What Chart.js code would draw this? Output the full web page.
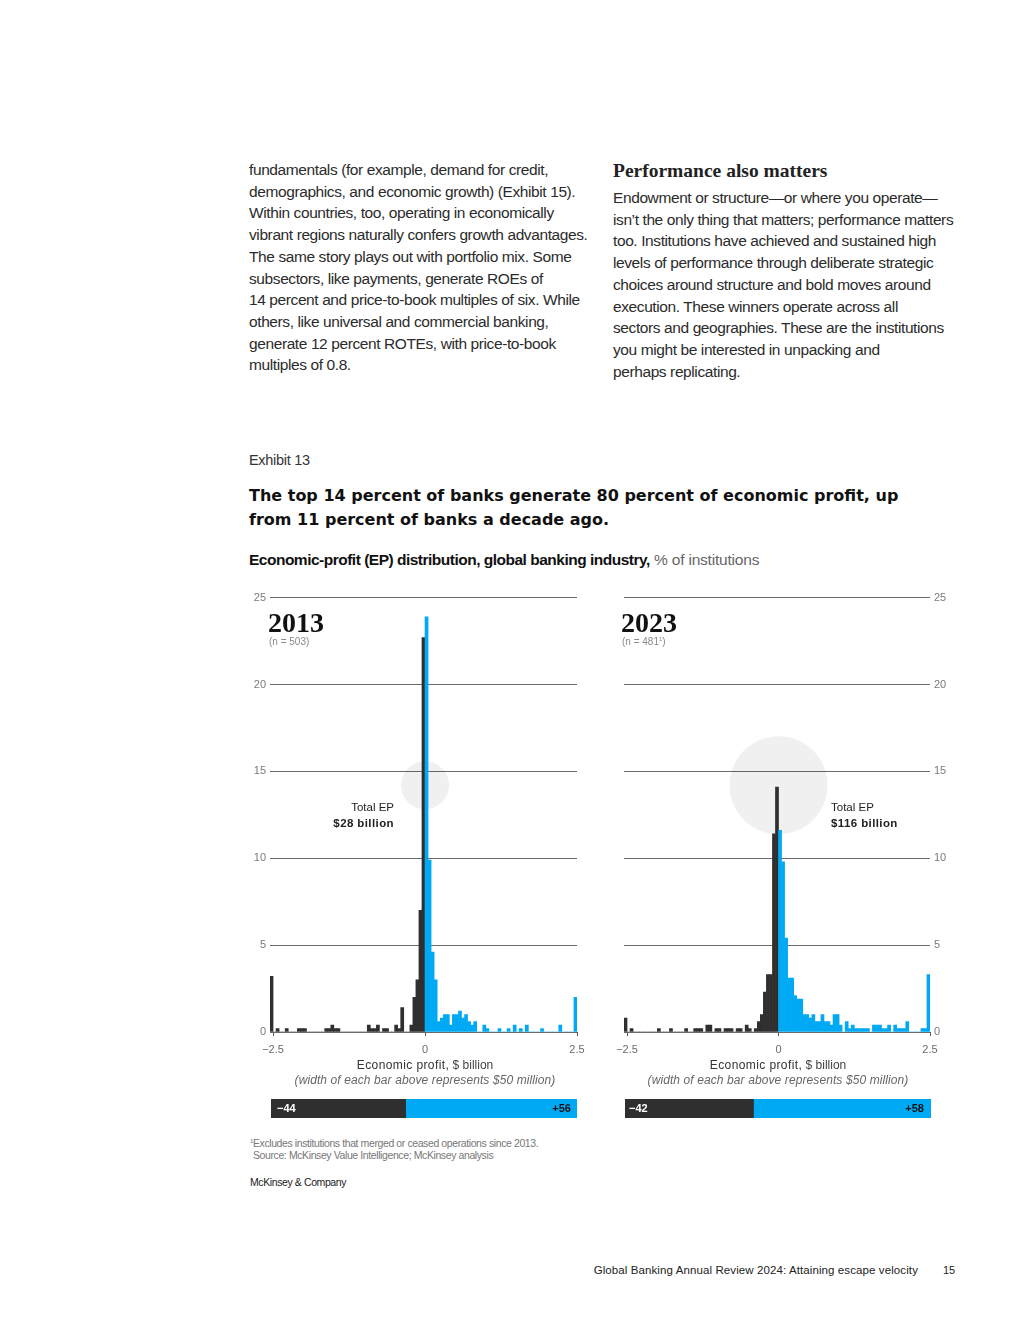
<!DOCTYPE html>
<html>
<head>
<meta charset="utf-8">
<title>Exhibit 13</title>
<script src="https://cdn.jsdelivr.net/npm/chart.js@4.4.1/dist/chart.umd.min.js"></script>
<style>
  html, body { margin: 0; padding: 0; background: #fff; }
  body { width: 1020px; height: 1320px; position: relative; overflow: hidden;
         font-family: "Liberation Sans", Arial, sans-serif; color: #222; }
  .abs { position: absolute; white-space: nowrap; }
  .body-text { font-size: 15.5px; line-height: 21.7px; color: #2b2b2b; letter-spacing: -0.4px; }
  .serif { font-family: "Liberation Serif", "DejaVu Serif", serif; }
  .box { position: absolute; }
  .year { font-size: 28px; font-weight: bold; line-height: 30px; color: #111; }
  .n { font-size: 10px; line-height: 12px; color: #8a8a8a; }
  .ep { font-size: 11.5px; line-height: 16px; color: #222; }
  .ep b { letter-spacing: 0.4px; }
  .axis-title { font-size: 12px; line-height: 15px; color: #444; text-align: center; width: 320px; }
  .axis-title span { letter-spacing: 0.4px; }
  .axis-title i { letter-spacing: 0.1px; color: #666; }
  .share { font-size: 11px; font-weight: bold; line-height: 18px; }
  .note { font-size: 10.5px; line-height: 12px; color: #777; letter-spacing: -0.4px; }
  sup { font-size: 6px; line-height: 0; vertical-align: 4px; }
</style>
</head>
<body>

<div class="abs body-text" style="left:249px; top:159px;">
fundamentals (for example, demand for credit,<br>
demographics, and economic growth) (Exhibit 15).<br>
Within countries, too, operating in economically<br>
vibrant regions naturally confers growth advantages.<br>
The same story plays out with portfolio mix. Some<br>
subsectors, like payments, generate ROEs of<br>
14 percent and price-to-book multiples of six. While<br>
others, like universal and commercial banking,<br>
generate 12 percent ROTEs, with price-to-book<br>
multiples of 0.8.
</div>

<div class="abs serif" style="left:613px; top:159px; font-size:19.5px; line-height:24px; font-weight:bold; color:#222;">Performance also matters</div>
<div class="abs body-text" style="left:613px; top:187px;">
Endowment or structure—or where you operate—<br>
isn’t the only thing that matters; performance matters<br>
too. Institutions have achieved and sustained high<br>
levels of performance through deliberate strategic<br>
choices around structure and bold moves around<br>
execution. These winners operate across all<br>
sectors and geographies. These are the institutions<br>
you might be interested in unpacking and<br>
perhaps replicating.
</div>

<div class="abs" style="left:249px; top:450px; font-size:14.5px; line-height:20px; color:#333; letter-spacing:-0.3px;">Exhibit 13</div>
<div class="abs" style="left:249px; top:484px; font-family:'DejaVu Sans', sans-serif; font-size:16px; line-height:24px; font-weight:bold; color:#111;">
The top 14 percent of banks generate 80 percent of economic profit, up<br>
from 11 percent of banks a decade ago.
</div>
<div class="abs" style="left:249px; top:550px; font-size:15.5px; line-height:20px; color:#111;">
<b style="letter-spacing:-0.5px;">Economic-profit (EP) distribution, global banking industry,</b> <span style="color:#666; letter-spacing:-0.2px;">% of institutions</span>
</div>

<!-- histograms -->
<div class="box" style="left:240px; top:587px; width:360px; height:475px;"><canvas id="hist2013"></canvas></div>
<div class="box" style="left:594px; top:587px; width:366px; height:475px;"><canvas id="hist2023"></canvas></div>

<div class="abs serif year" style="left:268px; top:608px;">2013</div>
<div class="abs n" style="left:269px; top:636px;">(n = 503)</div>
<div class="abs serif year" style="left:621px; top:608px;">2023</div>
<div class="abs n" style="left:622px; top:636px;">(n = 481<sup>1</sup>)</div>

<div class="abs ep" style="right:626px; top:799px; text-align:right;">Total EP<br><b>$28 billion</b></div>
<div class="abs ep" style="left:831px; top:799px;">Total EP<br><b>$116 billion</b></div>

<div class="abs axis-title" style="left:265px; top:1058px;"><span style="color:#333;">Economic profit,</span> $ billion<br><i>(width of each bar above represents $50 million)</i></div>
<div class="abs axis-title" style="left:618px; top:1058px;"><span style="color:#333;">Economic profit,</span> $ billion<br><i>(width of each bar above represents $50 million)</i></div>

<!-- negative / positive share bars -->
<div class="box" style="left:271px; top:1099px; width:306px; height:19px;"><canvas id="share2013"></canvas></div>
<div class="box" style="left:625px; top:1099px; width:306px; height:19px;"><canvas id="share2023"></canvas></div>
<div class="abs share" style="left:277px; top:1099px; color:#fff;">−44</div>
<div class="abs share" style="right:449px; top:1099px; color:#111;">+56</div>
<div class="abs share" style="left:629px; top:1099px; color:#fff;">−42</div>
<div class="abs share" style="right:96px; top:1099px; color:#111;">+58</div>

<div class="abs note" style="left:250px; top:1137px;"><sup>1</sup>Excludes institutions that merged or ceased operations since 2013.</div>
<div class="abs note" style="left:253px; top:1149px;">Source: McKinsey Value Intelligence; McKinsey analysis</div>
<div class="abs" style="left:250px; top:1176px; font-size:10.5px; line-height:12px; color:#222; letter-spacing:-0.4px;">McKinsey &amp; Company</div>

<div class="abs" style="right:102px; top:1263px; font-size:11.5px; line-height:14px; color:#222; letter-spacing:0.1px;">Global Banking Annual Review 2024: Attaining escape velocity</div>
<div class="abs" style="left:943px; top:1263px; font-size:11px; line-height:14px; color:#222;">15</div>

<script>
// bins are $50 million wide; first bin collects everything below -2.5
var firstBin = -2.55;
var binWidth = 0.05;
var xTicks = [-2.5, 0, 2.5];

// % of institutions per bin, 2013 (n = 503)
var ep2013 = [
  3.2, 0, 0.2, 0, 0, 0.2, 0, 0, 0, 0.2,
  0.2, 0.2, 0, 0, 0, 0, 0, 0, 0.2, 0.2,
  0.4, 0.2, 0.2, 0, 0, 0, 0, 0, 0, 0,
  0, 0, 0.4, 0.2, 0.2, 0.4, 0, 0.2, 0.2, 0,
  0, 0.4, 0.2, 1.4, 0, 0, 0.4, 2.0, 3.0, 7.0,
  22.7, 23.9, 9.9, 4.6, 3.0, 0.6, 0.8, 1.0, 1.0, 0.4,
  1.0, 1.0, 1.2, 0.8, 1.0, 0.6, 0.4, 0.6, 0, 0,
  0.4, 0.2, 0, 0, 0, 0.2, 0, 0, 0.2, 0,
  0.4, 0, 0.2, 0, 0.4, 0, 0, 0, 0, 0.2,
  0, 0, 0, 0, 0, 0.4, 0, 0, 0, 0,
  2.0
];

// % of institutions per bin, 2023 (n = 481)
var ep2023 = [
  0.8, 0, 0.2, 0, 0, 0, 0, 0, 0, 0,
  0, 0.2, 0, 0, 0, 0.2, 0, 0, 0, 0,
  0.2, 0, 0, 0.2, 0.2, 0.2, 0, 0.4, 0.4, 0,
  0.2, 0.2, 0, 0.2, 0.2, 0.2, 0, 0.2, 0.2, 0,
  0.4, 0.2, 0, 0.2, 0.6, 1.0, 2.3, 3.3, 3.3, 11.4,
  14.1, 11.6, 9.8, 5.4, 3.1, 3.1, 2.1, 1.9, 1.9, 1.0,
  1.0, 0.8, 1.0, 0.6, 0.6, 1.0, 0.6, 0.6, 0.4, 1.0,
  1.0, 0.4, 0, 0.6, 0.2, 0.4, 0.2, 0.2, 0.2, 0.2,
  0.2, 0, 0.4, 0.4, 0.4, 0.2, 0.2, 0.4, 0, 0.4,
  0.2, 0.2, 0.2, 0.6, 0, 0, 0, 0, 0.2, 0.2,
  3.3
];

var totalEP = [28, 116];        // $ billion
var negativeShare = [44, 42];   // % of institutions with EP < 0
var positiveShare = [56, 58];

var darkGrey = '#2f2f2f';
var blue = '#00a9f4';
var circleY = 14.2;     // where the total-EP circle sits on the y scale
var circleScale = 4.55; // px of radius per sqrt($ billion)

Chart.defaults.font.family = '"Liberation Sans", Arial, sans-serif';
Chart.defaults.animation = false;
Chart.defaults.plugins.legend.display = false;
Chart.defaults.plugins.tooltip.enabled = false;
Chart.defaults.maintainAspectRatio = false;

function BuildHistogram(canvasId, values, ep, yPosition, padding) {
  var ctx = document.getElementById(canvasId).getContext('2d');
  var points = values.map(function (v, i) {
    return { x: firstBin + binWidth * (i + 0.5), y: v };
  });
  return new Chart(ctx, {
    data: {
      datasets: [{
        type: 'bar',
        data: points,
        backgroundColor: points.map(function (p) { return p.x < 0 ? darkGrey : blue; }),
        borderWidth: 0,
        barPercentage: 1,
        categoryPercentage: 1,
        order: 1
      }, {
        type: 'bubble',
        data: [{ x: 0, y: circleY, r: circleScale * Math.sqrt(ep) }],
        backgroundColor: 'rgba(0,0,0,0.06)',
        borderWidth: 0,
        hoverRadius: 0,
        order: 2
      }]
    },
    options: {
      layout: { padding: padding, autoPadding: false },
      scales: {
        x: {
          type: 'linear',
          offset: false,
          min: firstBin,
          max: 2.5,
          afterBuildTicks: function (axis) {
            axis.ticks = xTicks.map(function (v) { return { value: v }; });
          },
          ticks: {
            autoSkip: false,
            maxRotation: 0,
            padding: 7,
            color: '#6b6b6b',
            font: { size: 11 },
            callback: function (v) { return v < 0 ? '\u2212' + Math.abs(v) : String(v); }
          },
          grid: { offset: false, drawOnChartArea: false, drawTicks: true, tickLength: 4, color: '#555' },
          border: { display: false },
          afterFit: function (axis) { axis.height = 30; }
        },
        y: {
          position: yPosition,
          min: 0,
          max: 25,
          ticks: { stepSize: 5, padding: 4, color: '#7a7a7a', font: { size: 11 } },
          grid: { drawTicks: false, color: '#6a6a6a' },
          border: { display: false },
          afterFit: function (axis) { axis.width = 30; }
        }
      }
    }
  });
}

function BuildShareBar(canvasId, neg, pos) {
  var ctx = document.getElementById(canvasId).getContext('2d');
  return new Chart(ctx, {
    type: 'bar',
    data: {
      labels: [''],
      datasets: [
        { data: [neg], backgroundColor: darkGrey, borderWidth: 0, barPercentage: 1, categoryPercentage: 1 },
        { data: [pos], backgroundColor: blue, borderWidth: 0, barPercentage: 1, categoryPercentage: 1 }
      ]
    },
    options: {
      indexAxis: 'y',
      layout: { padding: 0, autoPadding: false },
      scales: {
        x: { display: false, stacked: true, min: 0, max: neg + pos },
        y: { display: false, stacked: true }
      }
    }
  });
}

BuildHistogram('hist2013', ep2013, totalEP[0], 'left', { top: 10, right: 23, left: 0, bottom: 0 });
BuildHistogram('hist2023', ep2023, totalEP[1], 'right', { top: 10, right: 0, left: 30, bottom: 0 });
BuildShareBar('share2013', negativeShare[0], positiveShare[0]);
BuildShareBar('share2023', negativeShare[1], positiveShare[1]);
</script>
</body>
</html>
